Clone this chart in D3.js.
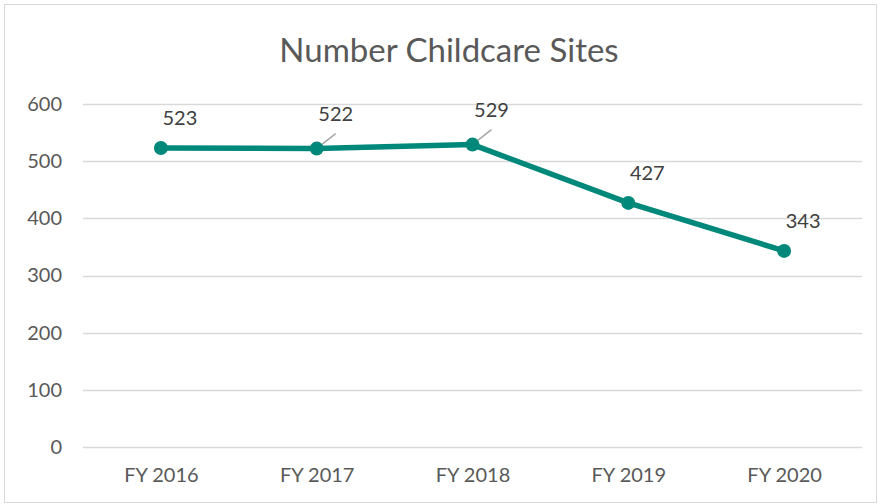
<!DOCTYPE html>
<html>
<head>
<meta charset="utf-8">
<script src="https://cdn.jsdelivr.net/npm/d3@7"></script>
<style>
body{margin:0;background:#fff;font-family:Lato,"Open Sans",sans-serif}
</style>
</head>
<body>
<script>
// chart data
var years=["FY 2016","FY 2017","FY 2018","FY 2019","FY 2020"]
var sites=[523,522,529,427,343]
var yTicks=[0,100,200,300,400,500,600]
var leader=[false,true,true,false,false]

var screen={width:878,height:504}
var margins={top:104,right:16,bottom:57,left:83}
var width=screen.width-margins.left-margins.right
var height=screen.height-margins.top-margins.bottom

var svg=d3.select("body").append("svg")
  .attr("width",screen.width)
  .attr("height",screen.height)

// chart border
svg.append("rect")
  .attr("x",4.5).attr("y",4.5)
  .attr("width",screen.width-6).attr("height",screen.height-6)
  .attr("fill","#fff").attr("stroke","#d9d9d9")

svg.append("text")
  .attr("x",449).attr("y",54)
  .attr("text-anchor","middle")
  .attr("dominant-baseline","middle")
  .style("font-size","33px")
  .style("fill","#595959")
  .text("Number Childcare Sites")

var xScale=d3.scalePoint().domain(years).range([0,width]).padding(0.5)
var yScale=d3.scaleLinear().domain([0,600]).range([height,0])

var plot=svg.append("g")
  .attr("transform","translate("+margins.left+","+margins.top+")")

// gridlines
plot.selectAll(".grid")
  .data(yTicks)
  .enter()
  .append("line")
  .attr("x1",0).attr("x2",width)
  .attr("y1",function(d){return Math.round(yScale(d))+0.5})
  .attr("y2",function(d){return Math.round(yScale(d))+0.5})
  .style("stroke","#d9d9d9").style("stroke-width",1.3)

// axes
var yAxis=d3.axisLeft(yScale).tickValues(yTicks).tickSize(0).tickPadding(21)
var gy=plot.append("g").call(yAxis)
gy.select(".domain").remove()
gy.selectAll("text").style("font-size","20px").style("fill","#595959").style("font-family","Lato,sans-serif").attr("text-anchor","end")

var xAxis=d3.axisBottom(xScale).tickSize(0).tickPadding(21)
var gx=plot.append("g").attr("transform","translate(0,"+height+")").call(xAxis)
gx.select(".domain").remove()
gx.selectAll("text").style("font-size","20px").style("fill","#595959").style("font-family","Lato,sans-serif")

// line
var line=d3.line()
  .x(function(d,i){return xScale(years[i])})
  .y(function(d){return yScale(d)})
plot.append("path")
  .datum(sites)
  .attr("d",line)
  .attr("fill","none")
  .attr("stroke","#00897B")
  .attr("stroke-width",5.5)
  .attr("stroke-linejoin","round")

// leader lines
plot.selectAll(".leader")
  .data(sites.filter(function(d,i){return leader[i]}).map(function(d){return {v:d,i:sites.indexOf(d)}}))
  .enter()
  .append("line")
  .attr("x1",function(d){return xScale(years[d.i])+1})
  .attr("y1",function(d){return yScale(d.v)-1})
  .attr("x2",function(d){return xScale(years[d.i])+19})
  .attr("y2",function(d){return yScale(d.v)-15})
  .style("stroke","#a6a6a6").style("stroke-width",1.5)

plot.selectAll("circle")
  .data(sites)
  .enter()
  .append("circle")
  .attr("cx",function(d,i){return xScale(years[i])})
  .attr("cy",function(d){return yScale(d)})
  .attr("r",7)
  .attr("fill","#00897B")

// labels
plot.selectAll(".lbl")
  .data(sites)
  .enter()
  .append("text")
  .attr("x",function(d,i){return xScale(years[i])+19})
  .attr("y",function(d,i){return yScale(d)-(leader[i]?33:28)})
  .attr("text-anchor","middle")
  .attr("dominant-baseline","middle")
  .style("font-size","20px")
  .style("fill","#404040")
  .text(function(d){return d})
</script>
</body>
</html>
